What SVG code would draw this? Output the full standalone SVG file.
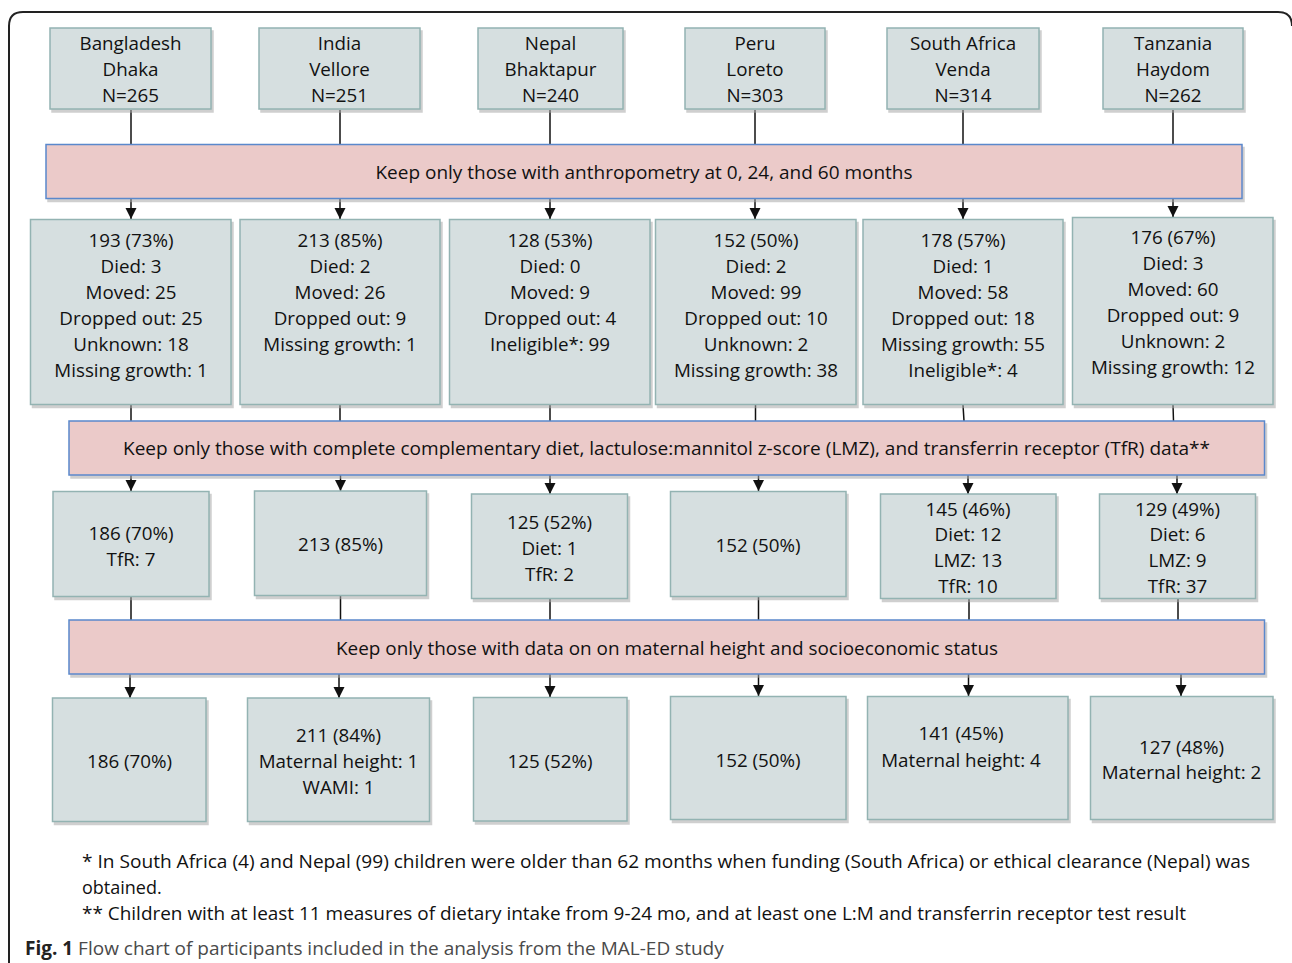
<svg xmlns="http://www.w3.org/2000/svg" width="1292" height="963" viewBox="0 0 1292 963">
<defs>
<style>
.box{fill:#d6dfe0;stroke:#93b3b2;stroke-width:1.5;filter:url(#sh)}
.band{fill:#ebcac9;stroke:#5a88cc;stroke-width:1.5;filter:url(#sh)}
text{font-family:"Open Sans","Liberation Sans",sans-serif;font-size:18.8px;fill:#111}
.c{text-anchor:middle}
.ln{stroke:#111;stroke-width:1.5;fill:none}
.ar{stroke:#111;stroke-width:1.5;fill:none;marker-end:url(#ah)}
.fn{font-size:18px}
.cap{font-size:19px;fill:#4a4a4a}
</style>
<filter id="sh" x="-5%" y="-5%" width="110%" height="115%">
<feDropShadow dx="2" dy="3" stdDeviation="0.6" flood-color="#a8a8a8" flood-opacity="0.55"/>
</filter>
<marker id="ah" markerWidth="11" markerHeight="12" refX="10" refY="5" orient="auto" markerUnits="userSpaceOnUse" viewBox="0 0 10 10">
<path d="M0,0 L10,5 L0,10 Z" fill="#111"/>
</marker>
</defs>
<rect width="1292" height="963" fill="#fff"/>
<path d="M9,963 L9,26 Q9,12 23,12 L1278,12 Q1292,12 1292,26" fill="none" stroke="#222" stroke-width="2"/>

<g id="connectors">
<line class="ln" x1="131" y1="110" x2="131" y2="145"/>
<line class="ln" x1="340" y1="110" x2="340" y2="145"/>
<line class="ln" x1="550" y1="110" x2="550" y2="145"/>
<line class="ln" x1="755" y1="110" x2="755" y2="145"/>
<line class="ln" x1="963" y1="110" x2="963" y2="145"/>
<line class="ln" x1="1173" y1="110" x2="1173" y2="145"/>
<line class="ar" x1="131" y1="199" x2="131" y2="219"/>
<line class="ar" x1="340" y1="199" x2="340" y2="219"/>
<line class="ar" x1="550" y1="199" x2="550" y2="219"/>
<line class="ar" x1="755" y1="199" x2="755" y2="219"/>
<line class="ar" x1="963" y1="199" x2="963" y2="219"/>
<line class="ar" x1="1173" y1="199" x2="1173" y2="217"/>
<line class="ln" x1="131" y1="405" x2="131" y2="421"/>
<line class="ln" x1="340" y1="405" x2="340" y2="421"/>
<line class="ln" x1="550" y1="405" x2="550" y2="421"/>
<line class="ln" x1="755.5" y1="405" x2="755.5" y2="421"/>
<line class="ln" x1="963" y1="405" x2="964" y2="421"/>
<line class="ln" x1="1173" y1="405" x2="1173.5" y2="421"/>
<line class="ar" x1="131" y1="475" x2="131" y2="491"/>
<line class="ar" x1="340.5" y1="475" x2="340.5" y2="491"/>
<line class="ar" x1="550" y1="475" x2="550" y2="494"/>
<line class="ar" x1="758.5" y1="475" x2="758.5" y2="491"/>
<line class="ar" x1="968" y1="475" x2="968" y2="494"/>
<line class="ar" x1="1177" y1="475" x2="1177" y2="494"/>
<line class="ln" x1="131" y1="597" x2="131" y2="620"/>
<line class="ln" x1="340.5" y1="596" x2="340.5" y2="620"/>
<line class="ln" x1="550" y1="599" x2="550" y2="620"/>
<line class="ln" x1="758.5" y1="597" x2="758.5" y2="620"/>
<line class="ln" x1="969" y1="599" x2="969" y2="620"/>
<line class="ln" x1="1178" y1="599" x2="1178" y2="620"/>
<line class="ar" x1="130" y1="674" x2="130" y2="698"/>
<line class="ar" x1="339" y1="674" x2="339" y2="698"/>
<line class="ar" x1="550" y1="674" x2="550" y2="697"/>
<line class="ar" x1="758.5" y1="674" x2="758.5" y2="696"/>
<line class="ar" x1="968.5" y1="674" x2="968.5" y2="696"/>
<line class="ar" x1="1181" y1="674" x2="1181" y2="696"/>
</g>

<g id="site-bangladesh"><rect class="box" x="50" y="28" width="161" height="81"/>
<text class="c" x="130.5" y="50">Bangladesh</text><text class="c" x="130.5" y="76">Dhaka</text><text class="c" x="130.5" y="102">N=265</text></g>
<g id="site-india"><rect class="box" x="259" y="28" width="161" height="81"/>
<text class="c" x="339.5" y="50">India</text><text class="c" x="339.5" y="76">Vellore</text><text class="c" x="339.5" y="102">N=251</text></g>
<g id="site-nepal"><rect class="box" x="478" y="28" width="145" height="81"/>
<text class="c" x="550.5" y="50">Nepal</text><text class="c" x="550.5" y="76">Bhaktapur</text><text class="c" x="550.5" y="102">N=240</text></g>
<g id="site-peru"><rect class="box" x="685" y="28" width="140" height="81"/>
<text class="c" x="755" y="50">Peru</text><text class="c" x="755" y="76">Loreto</text><text class="c" x="755" y="102">N=303</text></g>
<g id="site-southafrica"><rect class="box" x="887" y="28" width="152" height="81"/>
<text class="c" x="963" y="50">South Africa</text><text class="c" x="963" y="76">Venda</text><text class="c" x="963" y="102">N=314</text></g>
<g id="site-tanzania"><rect class="box" x="1103" y="28" width="140" height="81"/>
<text class="c" x="1173" y="50">Tanzania</text><text class="c" x="1173" y="76">Haydom</text><text class="c" x="1173" y="102">N=262</text></g>

<g id="filter-anthropometry"><rect class="band" x="46" y="144.5" width="1196" height="54"/>
<text class="c" x="644" y="179" textLength="537" lengthAdjust="spacingAndGlyphs">Keep only those with anthropometry at 0, 24, and 60 months</text></g>

<g id="r2-bangladesh"><rect class="box" x="30.5" y="219.5" width="200.5" height="185"/>
<text class="c" x="131" y="247">193 (73%)</text><text class="c" x="131" y="273">Died: 3</text><text class="c" x="131" y="299">Moved: 25</text><text class="c" x="131" y="325">Dropped out: 25</text><text class="c" x="131" y="351">Unknown: 18</text><text class="c" x="131" y="377">Missing growth: 1</text></g>
<g id="r2-india"><rect class="box" x="240" y="219.5" width="200" height="185"/>
<text class="c" x="340" y="247">213 (85%)</text><text class="c" x="340" y="273">Died: 2</text><text class="c" x="340" y="299">Moved: 26</text><text class="c" x="340" y="325">Dropped out: 9</text><text class="c" x="340" y="351">Missing growth: 1</text></g>
<g id="r2-nepal"><rect class="box" x="449.5" y="219.5" width="200.5" height="185"/>
<text class="c" x="550" y="247">128 (53%)</text><text class="c" x="550" y="273">Died: 0</text><text class="c" x="550" y="299">Moved: 9</text><text class="c" x="550" y="325">Dropped out: 4</text><text class="c" x="550" y="351">Ineligible*: 99</text></g>
<g id="r2-peru"><rect class="box" x="655.5" y="219.5" width="200.5" height="185"/>
<text class="c" x="756" y="247">152 (50%)</text><text class="c" x="756" y="273">Died: 2</text><text class="c" x="756" y="299">Moved: 99</text><text class="c" x="756" y="325">Dropped out: 10</text><text class="c" x="756" y="351">Unknown: 2</text><text class="c" x="756" y="377">Missing growth: 38</text></g>
<g id="r2-southafrica"><rect class="box" x="863" y="219.5" width="200" height="185"/>
<text class="c" x="963" y="247">178 (57%)</text><text class="c" x="963" y="273">Died: 1</text><text class="c" x="963" y="299">Moved: 58</text><text class="c" x="963" y="325">Dropped out: 18</text><text class="c" x="963" y="351">Missing growth: 55</text><text class="c" x="963" y="377">Ineligible*: 4</text></g>
<g id="r2-tanzania"><rect class="box" x="1072.5" y="217.5" width="200.5" height="187"/>
<text class="c" x="1173" y="244">176 (67%)</text><text class="c" x="1173" y="270">Died: 3</text><text class="c" x="1173" y="296">Moved: 60</text><text class="c" x="1173" y="322">Dropped out: 9</text><text class="c" x="1173" y="348">Unknown: 2</text><text class="c" x="1173" y="374">Missing growth: 12</text></g>

<g id="filter-diet"><rect class="band" x="69" y="421" width="1195.5" height="54"/>
<text class="c" x="666.5" y="455" textLength="1087" lengthAdjust="spacingAndGlyphs">Keep only those with complete complementary diet, lactulose:mannitol z-score (LMZ), and transferrin receptor (TfR) data**</text></g>

<g id="r3-bangladesh"><rect class="box" x="53" y="491.5" width="156" height="105"/>
<text class="c" x="131" y="540">186 (70%)</text><text class="c" x="131" y="566">TfR: 7</text></g>
<g id="r3-india"><rect class="box" x="254.5" y="491" width="172" height="104.5"/>
<text class="c" x="340.5" y="551">213 (85%)</text></g>
<g id="r3-nepal"><rect class="box" x="471.5" y="494" width="156" height="104.5"/>
<text class="c" x="549.5" y="529">125 (52%)</text><text class="c" x="549.5" y="555">Diet: 1</text><text class="c" x="549.5" y="581">TfR: 2</text></g>
<g id="r3-peru"><rect class="box" x="670.5" y="491.5" width="175.5" height="105"/>
<text class="c" x="758" y="552">152 (50%)</text></g>
<g id="r3-southafrica"><rect class="box" x="880.5" y="494" width="175.5" height="104.5"/>
<text class="c" x="968" y="516">145 (46%)</text><text class="c" x="968" y="541">Diet: 12</text><text class="c" x="968" y="567">LMZ: 13</text><text class="c" x="968" y="593">TfR: 10</text></g>
<g id="r3-tanzania"><rect class="box" x="1099.5" y="494" width="156" height="104.5"/>
<text class="c" x="1177.5" y="516">129 (49%)</text><text class="c" x="1177.5" y="541">Diet: 6</text><text class="c" x="1177.5" y="567">LMZ: 9</text><text class="c" x="1177.5" y="593">TfR: 37</text></g>

<g id="filter-maternal"><rect class="band" x="69" y="620" width="1195.5" height="54"/>
<text class="c" x="667" y="655" textLength="662" lengthAdjust="spacingAndGlyphs">Keep only those with data on on maternal height and socioeconomic status</text></g>

<g id="r4-bangladesh"><rect class="box" x="52.5" y="698" width="153.5" height="123.5"/>
<text class="c" x="129.5" y="768">186 (70%)</text></g>
<g id="r4-india"><rect class="box" x="247.5" y="698" width="182" height="123.5"/>
<text class="c" x="338.5" y="742">211 (84%)</text><text class="c" x="338.5" y="768">Maternal height: 1</text><text class="c" x="338.5" y="794">WAMI: 1</text></g>
<g id="r4-nepal"><rect class="box" x="473.5" y="697.5" width="153.5" height="123.5"/>
<text class="c" x="550" y="768">125 (52%)</text></g>
<g id="r4-peru"><rect class="box" x="670.5" y="696.5" width="175.5" height="123"/>
<text class="c" x="758" y="767">152 (50%)</text></g>
<g id="r4-southafrica"><rect class="box" x="867.5" y="696.5" width="200.5" height="123"/>
<text class="c" x="961" y="740">141 (45%)</text><text class="c" x="961" y="767">Maternal height: 4</text></g>
<g id="r4-tanzania"><rect class="box" x="1090.5" y="696.5" width="182.5" height="123"/>
<text class="c" x="1181.5" y="754">127 (48%)</text><text class="c" x="1181.5" y="779">Maternal height: 2</text></g>

<g id="footnotes">
<text class="fn" x="82" y="868" textLength="1168" lengthAdjust="spacingAndGlyphs">* In South Africa (4) and Nepal (99) children were older than 62 months when funding (South Africa) or ethical clearance (Nepal) was</text>
<text class="fn" x="82" y="894">obtained.</text>
<text class="fn" x="82" y="920" textLength="1104" lengthAdjust="spacingAndGlyphs">** Children with at least 11 measures of dietary intake from 9-24 mo, and at least one L:M and transferrin receptor test result</text>
<text class="cap" x="25" y="955"><tspan font-weight="bold" fill="#222">Fig. 1</tspan> Flow chart of participants included in the analysis from the MAL-ED study</text>
</g>
</svg>
